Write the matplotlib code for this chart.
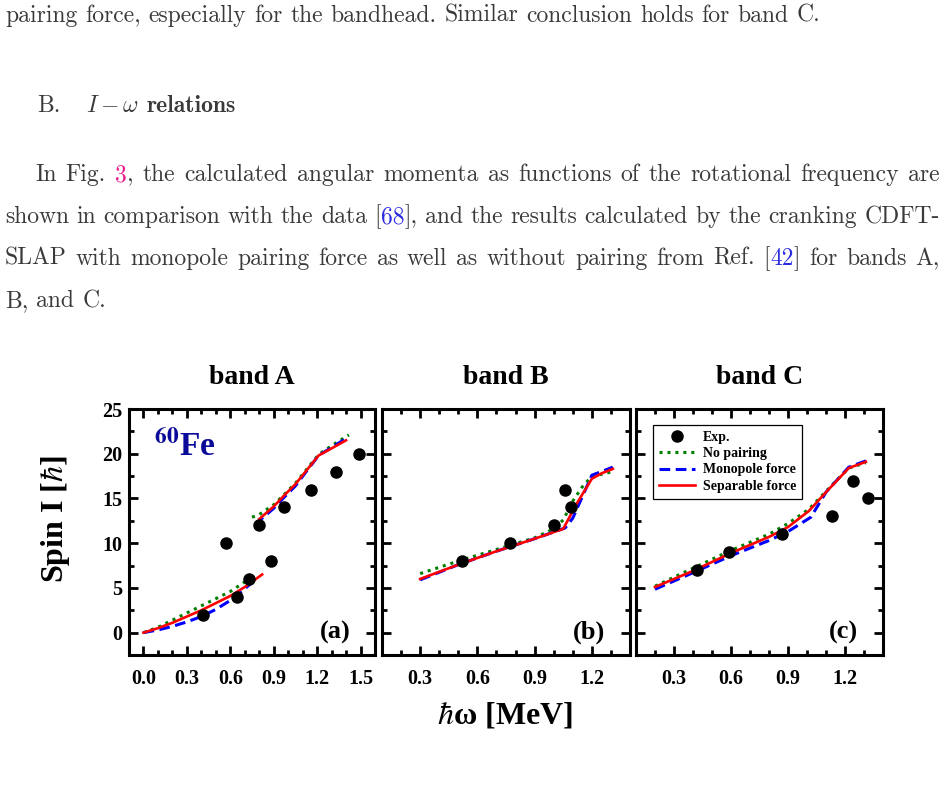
import matplotlib
matplotlib.use("Agg")
import matplotlib.pyplot as plt
from matplotlib.ticker import MultipleLocator

W, H = 944, 785

# ---- data ----
# band A
a_exp_x = [0.41, 0.57, 0.645, 0.73, 0.80, 0.88, 0.97, 1.16, 1.33, 1.49]
a_exp_y = [2, 10, 4, 6, 12, 8, 14, 16, 18, 20]
a_nopair_lo_x = [0.0, 0.1, 0.2, 0.3, 0.4, 0.5, 0.6, 0.75]
a_nopair_lo_y = [0.0, 0.6, 1.4, 2.2, 3.0, 3.8, 4.6, 6.2]
a_mono_lo_x = [0.0, 0.1, 0.2, 0.3, 0.4, 0.5, 0.6, 0.7, 0.75]
a_mono_lo_y = [0.0, 0.3, 0.7, 1.2, 1.8, 2.6, 3.6, 4.9, 5.6]
a_sep_lo_x = [0.0, 0.1, 0.2, 0.3, 0.4, 0.5, 0.6, 0.7, 0.82]
a_sep_lo_y = [0.0, 0.5, 1.1, 1.8, 2.5, 3.3, 4.1, 5.1, 6.5]
a_nopair_hi_x = [0.75, 0.8, 0.9, 0.97, 1.05, 1.12, 1.21, 1.3, 1.42]
a_nopair_hi_y = [12.9, 13.2, 14.3, 15.4, 16.7, 18.1, 19.9, 20.9, 22.1]
a_mono_hi_x = [0.77, 0.85, 0.9, 0.97, 1.05, 1.12, 1.21, 1.3, 1.41]
a_mono_hi_y = [12.1, 13.2, 13.9, 15.1, 16.4, 17.9, 19.8, 20.7, 21.8]
a_sep_hi_x = [0.80, 0.85, 0.9, 0.97, 1.05, 1.12, 1.21, 1.3, 1.4]
a_sep_hi_y = [12.7, 13.4, 14.1, 15.3, 16.6, 18.0, 19.8, 20.6, 21.5]

# band B
b_exp_x = [0.52, 0.77, 1.0, 1.06, 1.09]
b_exp_y = [8, 10, 12, 16, 14]
b_nopair_x = [0.3, 0.5, 0.7, 0.9, 1.0, 1.05, 1.1, 1.15, 1.2, 1.25, 1.31]
b_nopair_y = [6.6, 8.0, 9.3, 10.6, 11.6, 12.6, 14.7, 16.3, 17.5, 17.7, 18.0]
b_mono_x = [0.3, 0.5, 0.7, 0.9, 1.06, 1.1, 1.15, 1.2, 1.25, 1.31]
b_mono_y = [5.9, 7.6, 9.1, 10.5, 11.7, 12.8, 15.2, 17.6, 18.0, 18.5]
b_sep_x = [0.3, 0.5, 0.7, 0.9, 1.05, 1.12, 1.2, 1.25, 1.31]
b_sep_y = [6.0, 7.6, 9.1, 10.5, 11.6, 14.4, 17.2, 17.8, 18.3]

# band C
c_exp_x = [0.42, 0.59, 0.87, 1.13, 1.24, 1.32]
c_exp_y = [7, 9, 11, 13, 17, 15]
c_nopair_x = [0.2, 0.4, 0.6, 0.8, 0.9, 1.01, 1.1, 1.22, 1.31]
c_nopair_y = [5.2, 7.2, 9.2, 11.0, 12.2, 13.8, 15.8, 18.4, 19.0]
c_mono_x = [0.2, 0.4, 0.6, 0.8, 0.9, 1.02, 1.1, 1.22, 1.31]
c_mono_y = [4.85, 6.7, 8.6, 10.3, 11.3, 12.9, 15.7, 18.5, 19.2]
c_sep_x = [0.2, 0.4, 0.6, 0.8, 0.9, 1.01, 1.1, 1.22, 1.31]
c_sep_y = [5.1, 6.9, 8.9, 10.7, 11.8, 13.6, 15.7, 18.4, 19.1]

band_titles = ["band A", "band B", "band C"]
panel_tags = ["(a)", "(b)", "(c)"]
legend_labels = ["Exp.", "No pairing", "Monopole force", "Separable force"]

fig = plt.figure(figsize=(W / 100, H / 100), dpi=100)
renderer = fig.canvas.get_renderer()

TXT = "#3a3a3a"
PINK = "#ec1a8c"
LINK = "#2a2ae0"
FS = 17.0


def fx(px):
    return px / W


def fy(py):
    return 1 - py / H


def width_of(s, **kw):
    t = fig.text(0, 0, s, **kw)
    w = t.get_window_extent(renderer).width
    t.remove()
    return w


def put_line(words, x0, y, x1=None):
    # words: list of words, each a list of (text, colour) chunks
    kw = dict(family="cmr10", fontsize=FS)
    widths = [[width_of(s, **kw) for s, c in wd] for wd in words]
    totals = [sum(w) for w in widths]
    if x1 is None or len(words) < 2:
        gap = width_of("a a", **kw) - width_of("aa", **kw)
    else:
        gap = (x1 - x0 - sum(totals)) / (len(words) - 1)
    x = x0
    for wd, ws, tot in zip(words, widths, totals):
        xx = x
        for (s, c), w in zip(wd, ws):
            fig.text(fx(xx), fy(y), s, color=c, va="baseline", ha="left", **kw)
            xx += w
        x += tot + gap


def plain(line):
    return [[(w, TXT)] for w in line.split()]


put_line(plain("pairing force, especially for the bandhead. Similar conclusion holds for band C."), 5, 22)

# section heading
fig.text(fx(37), fy(112), "B.", family="cmr10", fontsize=FS, color=TXT, va="baseline")
fig.text(fx(86), fy(112), r"$I-\omega$", math_fontfamily="cm", fontsize=FS, color=TXT, va="baseline")
fig.text(fx(147), fy(112), "relations", family="cmb10", fontsize=FS, color=TXT, va="baseline")

l1 = plain("In Fig.") + [[("3", PINK), (",", TXT)]] + plain(
    "the calculated angular momenta as functions of the rotational frequency are")
put_line(l1, 35, 181, 940)
l2 = plain("shown in comparison with the data") + [[("[", TXT), ("68", LINK), ("],", TXT)]] + plain(
    "and the results calculated by the cranking CDFT-")
put_line(l2, 5, 223, 940)
l3 = plain("SLAP with monopole pairing force as well as without pairing from Ref.") + \
    [[("[", TXT), ("42", LINK), ("]", TXT)]] + plain("for bands A,")
put_line(l3, 5, 265, 940)
put_line(plain("B, and C."), 5, 307)

# ---- figure ----
SERIF = "Liberation Serif"
GREEN = "#008000"
BLUE = "#0000ff"
RED = "#ff0000"

boxes = [(129, 375), (382, 630), (636, 883)]
top, bot = 409, 655
xlims = [(-0.1, 1.6), (0.1, 1.4), (0.1, 1.4)]

panels = [
    (a_exp_x, a_exp_y,
     [(a_nopair_lo_x, a_nopair_lo_y), (a_nopair_hi_x, a_nopair_hi_y)],
     [(a_mono_lo_x, a_mono_lo_y), (a_mono_hi_x, a_mono_hi_y)],
     [(a_sep_lo_x, a_sep_lo_y), (a_sep_hi_x, a_sep_hi_y)]),
    (b_exp_x, b_exp_y, [(b_nopair_x, b_nopair_y)], [(b_mono_x, b_mono_y)], [(b_sep_x, b_sep_y)]),
    (c_exp_x, c_exp_y, [(c_nopair_x, c_nopair_y)], [(c_mono_x, c_mono_y)], [(c_sep_x, c_sep_y)]),
]

for i, ((l, r), (ex, ey, nop, mono, sep)) in enumerate(zip(boxes, panels)):
    ax = fig.add_axes([fx(l), fy(bot), (r - l) / W, (bot - top) / H])
    for xs, ys in nop:
        h1, = ax.plot(xs, ys, color=GREEN, ls=(0, (1, 1.6)), lw=2.2, zorder=3)
    for xs, ys in mono:
        h2, = ax.plot(xs, ys, color=BLUE, ls=(0, (3.5, 1.8)), lw=2.2, zorder=4)
    for xs, ys in sep:
        h3, = ax.plot(xs, ys, color=RED, ls="-", lw=1.9, zorder=5)
    h0, = ax.plot(ex, ey, "o", color="black", ms=8, ls="none", zorder=6)

    ax.set_xlim(*xlims[i])
    ax.set_ylim(-2.5, 25)
    ax.xaxis.set_major_locator(MultipleLocator(0.3))
    ax.xaxis.set_minor_locator(MultipleLocator(0.1))
    ax.yaxis.set_major_locator(MultipleLocator(5))
    ax.yaxis.set_minor_locator(MultipleLocator(2.5))
    ax.tick_params(which="both", direction="in", top=True, right=True, width=2.0)
    ax.tick_params(which="major", length=6.5)
    ax.tick_params(which="minor", length=3.5)
    ax.tick_params(axis="x", pad=10)
    ax.tick_params(axis="y", pad=5)
    for sp in ax.spines.values():
        sp.set_linewidth(2.2)

    if i == 0:
        ax.set_xticks([0.0, 0.3, 0.6, 0.9, 1.2, 1.5])
        ax.set_xticklabels(["0.0", "0.3", "0.6", "0.9", "1.2", "1.5"])
        ax.set_yticks([0, 5, 10, 15, 20, 25])
        ax.set_yticklabels(["0", "5", "10", "15", "20", "25"])
    else:
        ax.set_xticks([0.3, 0.6, 0.9, 1.2])
        ax.set_xticklabels(["0.3", "0.6", "0.9", "1.2"])
        ax.set_yticklabels([])
    for lab in ax.get_xticklabels() + ax.get_yticklabels():
        lab.set_fontfamily(SERIF)
        lab.set_fontweight("bold")
        lab.set_fontsize(14.5)

    ax.set_title(band_titles[i], family=SERIF, fontweight="bold", fontsize=20, pad=18)
    ax.text(0.9, 0.065, panel_tags[i], transform=ax.transAxes, ha="right", va="baseline",
            family=SERIF, fontweight="bold", fontsize=19)

    if i == 0:
        ax.text(0.10, 0.81, r"$^{\mathbf{60}}$Fe", transform=ax.transAxes, ha="left", va="baseline",
                family=SERIF, fontweight="bold", fontsize=24, color="#0b0b9a",
                math_fontfamily="stix")
    if i == 2:
        leg = ax.legend([h0, h1, h2, h3], legend_labels, loc="upper left",
                        bbox_to_anchor=(0.07, 0.935), prop=dict(family=SERIF, weight="bold", size=10),
                        frameon=True, fancybox=False, edgecolor="black", framealpha=1,
                        handlelength=2.6, handletextpad=0.6, borderpad=0.4, labelspacing=0.25,
                        borderaxespad=0)
        leg.get_frame().set_linewidth(0.9)

fig.text(fx(55), fy(519), r"Spin I [$\hbar$]", rotation=90, ha="center", va="center",
         family=SERIF, fontweight="bold", fontsize=23, math_fontfamily="stix")
fig.text(fx(505), fy(715), r"$\hbar$ω [MeV]", ha="center", va="center",
         family=SERIF, fontweight="bold", fontsize=23, math_fontfamily="stix")

fig.savefig("out.png", dpi=100)
